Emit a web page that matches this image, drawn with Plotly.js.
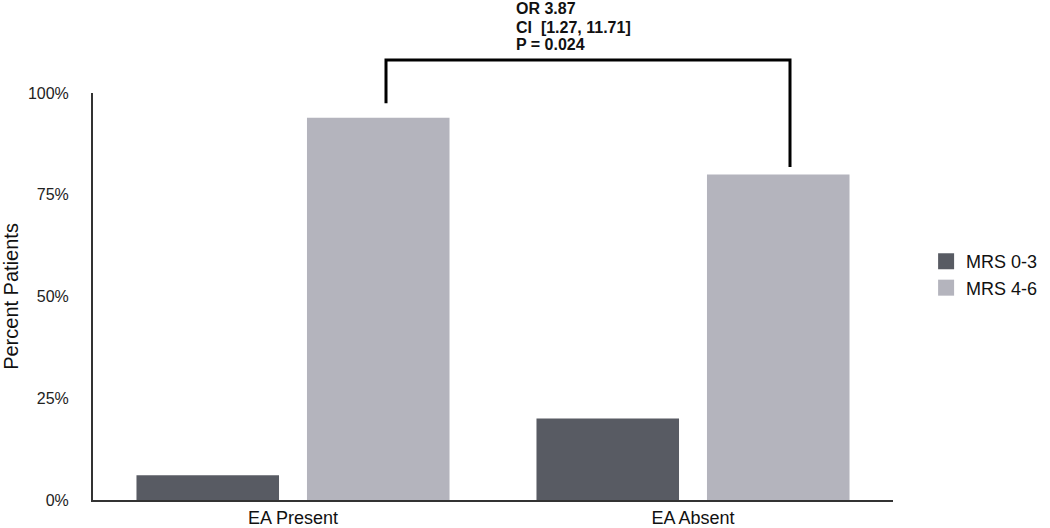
<!DOCTYPE html>
<html>
<head>
<meta charset="utf-8">
<script src="https://cdn.plot.ly/plotly-3.0.1.min.js"></script>
<style>
  html, body { margin: 0; padding: 0; background: #fff; }
  #chart { width: 1050px; height: 528px; }
</style>
</head>
<body>
<div id="chart"></div>
<script>
// Percent of patients by outcome group
const categories = ['EA Present', 'EA Absent'];
const seriesNames = ['MRS 0-3', 'MRS 4-6'];
const mrsLow = [6.1, 20.0];   // MRS 0-3
const mrsHigh = [93.9, 80.0]; // MRS 4-6
const seriesColors = ['#585b63', '#b4b4bd'];
const tickVals = [0, 25, 50, 75, 100];
const tickText = ['0%', '25%', '50%', '75%', '100%'];

// comparison bracket (x in category units, y in paper units)
const bracketX = [0.2325, 1.2425];
const bracketY = [0.975, 1.081, 0.818];
const statsLines = ['OR 3.87', 'CI  [1.27, 11.71]', 'P = 0.024'];
const statsY = [1.208, 1.162, 1.118];

const font = 'Helvetica, Arial, "Liberation Sans", sans-serif';

const values = [mrsLow, mrsHigh];
const traces = [];
values.forEach((vals, i) => {
    traces.push({
        type: 'bar',
        name: seriesNames[i],
        x: categories,
        y: vals,
        marker: {color: seriesColors[i], line: {width: 0}},
        showlegend: false,
        hoverinfo: 'none'
    });
});
// legend entries with bigger square swatches
values.forEach((vals, i) => {
    traces.push({
        type: 'scatter',
        mode: 'markers',
        name: seriesNames[i],
        x: [null],
        y: [null],
        marker: {symbol: 'square', size: 18, color: seriesColors[i]},
        hoverinfo: 'none'
    });
});

const layout = {
    width: 1050,
    height: 528,
    margin: {l: 93, r: 157, t: 93, b: 28},
    paper_bgcolor: '#fff',
    plot_bgcolor: '#fff',
    font: {family: font, color: '#222', size: 15},
    barmode: 'group',
    bargap: 0.1475,
    bargroupgap: 0.164,
    showlegend: true,
    legend: {
        xref: 'container', yref: 'container',
        x: 0.882, y: 0.48, xanchor: 'left', yanchor: 'middle',
        font: {size: 18, color: '#111'},
        tracegroupgap: 0
    },
    xaxis: {
        range: [-0.5, 1.5],
        showgrid: false,
        zeroline: false,
        showline: true,
        linecolor: '#333',
        linewidth: 2,
        ticks: '',
        tickfont: {size: 18, color: '#111'},
        ticklabelstandoff: 0
    },
    yaxis: {
        range: [0, 100],
        showgrid: false,
        zeroline: false,
        showline: true,
        linecolor: '#333',
        linewidth: 2,
        ticks: '',
        tickvals: tickVals,
        ticktext: tickText,
        tickfont: {size: 16, color: '#222'},
        ticklabelstandoff: 19,
        title: {text: 'Percent Patients', font: {size: 20, color: '#111'}, standoff: 12}
    },
    shapes: [{
        type: 'path',
        xref: 'x',
        yref: 'paper',
        path: 'M ' + bracketX[0] + ' ' + bracketY[0] +
              ' L ' + bracketX[0] + ' ' + bracketY[1] +
              ' L ' + bracketX[1] + ' ' + bracketY[1] +
              ' L ' + bracketX[1] + ' ' + bracketY[2],
        line: {color: '#000', width: 3}
    }],
    annotations: statsLines.map((t, i) => ({
        xref: 'x',
        yref: 'paper',
        x: 0.5525,
        y: statsY[i],
        xanchor: 'left',
        yanchor: 'middle',
        align: 'left',
        showarrow: false,
        text: '<b>' + t + '</b>',
        font: {size: 16, color: '#111'}
    }))
};

Plotly.newPlot('chart', traces, layout, {displayModeBar: false, staticPlot: true});
</script>
</body>
</html>
